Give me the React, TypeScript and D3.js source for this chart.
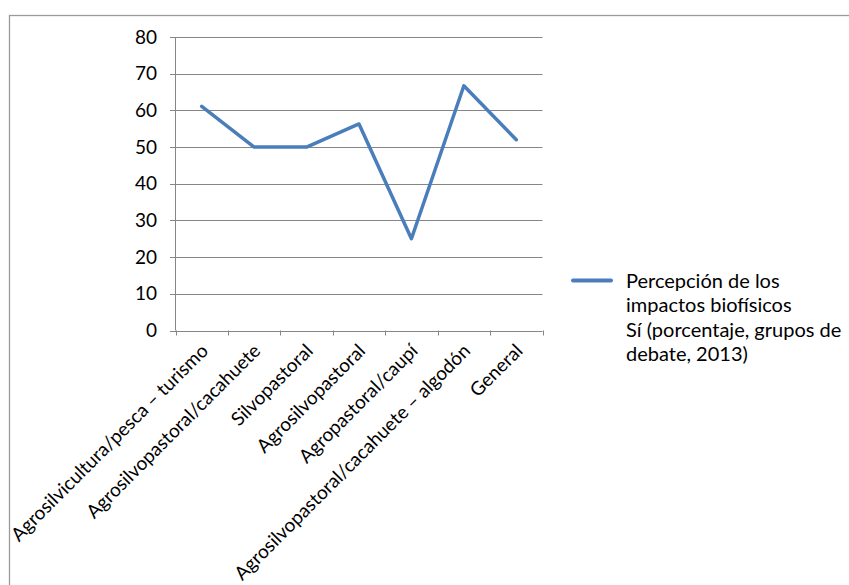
import React from "react";
import * as d3 from "d3";

const categories = [
  "Agrosilvicultura/pesca – turismo",
  "Agrosilvopastoral/cacahuete",
  "Silvopastoral",
  "Agrosilvopastoral",
  "Agropastoral/caupí",
  "Agrosilvopastoral/cacahuete – algodón",
  "General",
];
const values = [61.1, 50, 50, 56.3, 25, 66.7, 52];
const yTicks = [0, 10, 20, 30, 40, 50, 60, 70, 80];
const legendLines = [
  "Percepción de los",
  "impactos biofísicos",
  "Sí (porcentaje, grupos de",
  "debate, 2013)",
];

const W = 849;
const H = 585;
const FONT = "Lato, 'Open Sans', sans-serif";
const FS = 19;
const GRID = "#868686";
const BLUE = "#4a7ebb";

export default function App() {
  const x = d3.scaleBand<string>().domain(categories).range([175.5, 542.5]);
  const y = d3.scaleLinear().domain([0, 80]).range([330.5, 37]);
  const line = d3
    .line<number>()
    .x((_, i) => (x(categories[i]) as number) + x.bandwidth() / 2)
    .y((d) => y(d));
  const tickXs = categories.map((c) => x(c) as number).concat([x.range()[1]]);

  return (
    <svg
      width={W}
      height={H}
      style={{ position: "absolute", left: 0, top: 0, background: "#fff" }}
      fontFamily={FONT}
    >
      <rect x={9.5} y={15.5} width={W} height={H} fill="#fff" stroke="#9a9a9a" strokeWidth={1.3} />
      {yTicks.map((t) => (
        <g key={t}>
          <line x1={170} x2={x.range()[1]} y1={Math.round(y(t)) + 0.5} y2={Math.round(y(t)) + 0.5} stroke={GRID} strokeWidth={1} />
          <text x={157} y={y(t)} dy="0.35em" textAnchor="end" fontSize={FS} fill="#000">
            {t}
          </text>
        </g>
      ))}
      <line x1={175.5} x2={175.5} y1={y(80)} y2={y(0)} stroke={GRID} strokeWidth={1} />
      {tickXs.map((tx, i) => (
        <line key={i} x1={Math.round(tx) + 0.5} x2={Math.round(tx) + 0.5} y1={y(0)} y2={y(0) + 5} stroke={GRID} strokeWidth={1} />
      ))}
      {categories.map((c) => {
        const cx = (x(c) as number) + x.bandwidth() / 2;
        return (
          <text
            key={c}
            transform={`translate(${cx - 2},${y(0) + 12}) rotate(-45)`}
            textAnchor="end"
            dy="0.71em"
            fontSize={FS}
            fill="#000"
          >
            {c}
          </text>
        );
      })}
      <path d={line(values) || ""} fill="none" stroke={BLUE} strokeWidth={3.5} strokeLinejoin="round" strokeLinecap="round" />
      <line x1={573} x2={611} y1={280.5} y2={280.5} stroke={BLUE} strokeWidth={4} strokeLinecap="round" />
      {legendLines.map((l, i) => (
        <text key={i} x={626} y={288 + i * 24.3} fontSize={20} fill="#000">
          {l}
        </text>
      ))}
    </svg>
  );
}
